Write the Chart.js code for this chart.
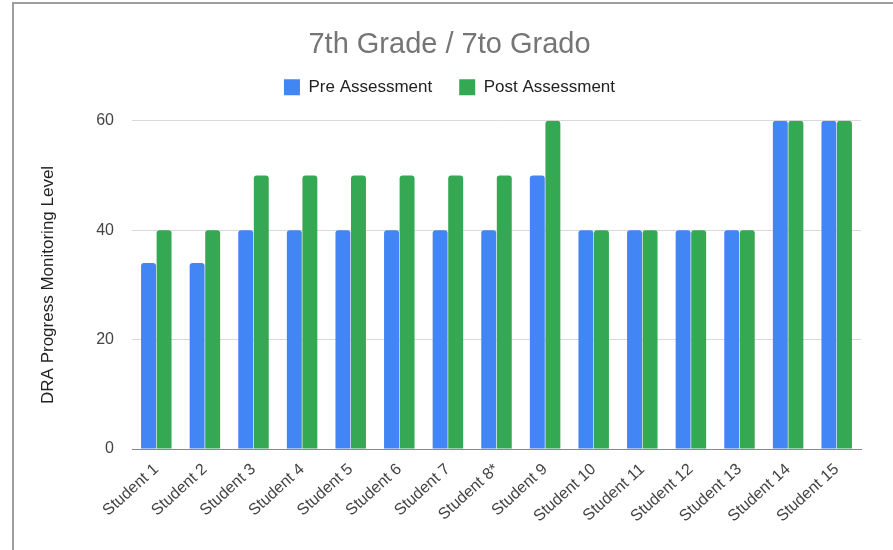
<!DOCTYPE html>
<html>
<head>
<meta charset="utf-8">
<script src="https://cdn.jsdelivr.net/npm/chart.js@4"></script>
<style>
  html, body { margin: 0; padding: 0; background: #fff; }
  #wrap { position: relative; width: 893px; height: 550px; }
  #frame { position: absolute; left: 12px; top: 2px; width: 900px; height: 560px;
           border-left: 2px solid #9e9e9e; border-top: 2px solid #9e9e9e; }
</style>
</head>
<body>
<div id="wrap">
  <div id="frame"></div>
  <canvas id="myChart" width="893" height="550"></canvas>
</div>
<script>
const students = ['Student 1', 'Student 2', 'Student 3', 'Student 4', 'Student 5',
  'Student 6', 'Student 7', 'Student 8*', 'Student 9', 'Student 10',
  'Student 11', 'Student 12', 'Student 13', 'Student 14', 'Student 15'];
const preAssessment  = [34, 34, 40, 40, 40, 40, 40, 40, 50, 40, 40, 40, 40, 60, 60];
const postAssessment = [40, 40, 50, 50, 50, 50, 50, 50, 60, 40, 40, 40, 40, 60, 60];
const yTicks = [0, 20, 40, 60];

const ctx = document.getElementById('myChart').getContext('2d');
Chart.defaults.font.family = '"Liberation Sans", Arial, sans-serif';

// extra space under the legend
const legendGap = {
  id: 'legendGap',
  beforeInit(chart) {
    const fit = chart.legend.fit;
    chart.legend.fit = function () {
      fit.bind(chart.legend)();
      this.height += 15;
    };
  }
};

const chart = new Chart(ctx, {
  type: 'bar',
  data: {
    labels: students,
    datasets: [{
      label: 'Pre Assessment',
      backgroundColor: '#4285f4',
      data: preAssessment,
      borderRadius: { topLeft: 3, topRight: 3 },
      borderSkipped: 'bottom',
    },
    {
      label: 'Post Assessment',
      backgroundColor: '#34a853',
      data: postAssessment,
      borderRadius: { topLeft: 3, topRight: 3 },
      borderSkipped: 'bottom',
    }]
  },
  plugins: [legendGap],
  options: {
    responsive: false,
    animation: false,
    datasets: { bar: { categoryPercentage: 0.64, barPercentage: 0.96 } },
    layout: { padding: { left: 38, right: 32, top: 0, bottom: 0 } },
    plugins: {
      title: {
        display: true,
        text: '7th Grade / 7to Grado',
        color: '#757575',
        font: { size: 29, weight: 'normal' },
        padding: { top: 28, bottom: -11 },
      },
      legend: {
        labels: {
          color: '#222',
          font: { size: 17 },
          boxWidth: 16,
          boxHeight: 16,
          padding: 27,
        },
      },
      tooltip: { enabled: false },
    },
    scales: {
      x: {
        grid: { display: false },
        border: { color: '#888', width: 1 },
        ticks: {
          color: '#444',
          font: { size: 16 },
          autoSkip: false,
          minRotation: 42,
          maxRotation: 42,
        },
        afterFit: (scale) => { scale.height = 101; },
      },
      y: {
        min: 0,
        max: 60,
        afterBuildTicks: (scale) => { scale.ticks = yTicks.map(v => ({ value: v })); },
        grid: {
          color: (c) => c.tick && c.tick.value === 0 ? '#888' : '#d9d9d9',
          drawTicks: false,
        },
        border: { display: false },
        ticks: { color: '#444', font: { size: 16 }, padding: 18 },
        title: {
          display: true,
          text: 'DRA Progress Monitoring Level',
          color: '#222',
          font: { size: 17 },
          padding: { top: 0, bottom: 20 },
        },
        afterFit: (scale) => { scale.width = 94; },
      },
    },
  },
});
</script>
</body>
</html>
